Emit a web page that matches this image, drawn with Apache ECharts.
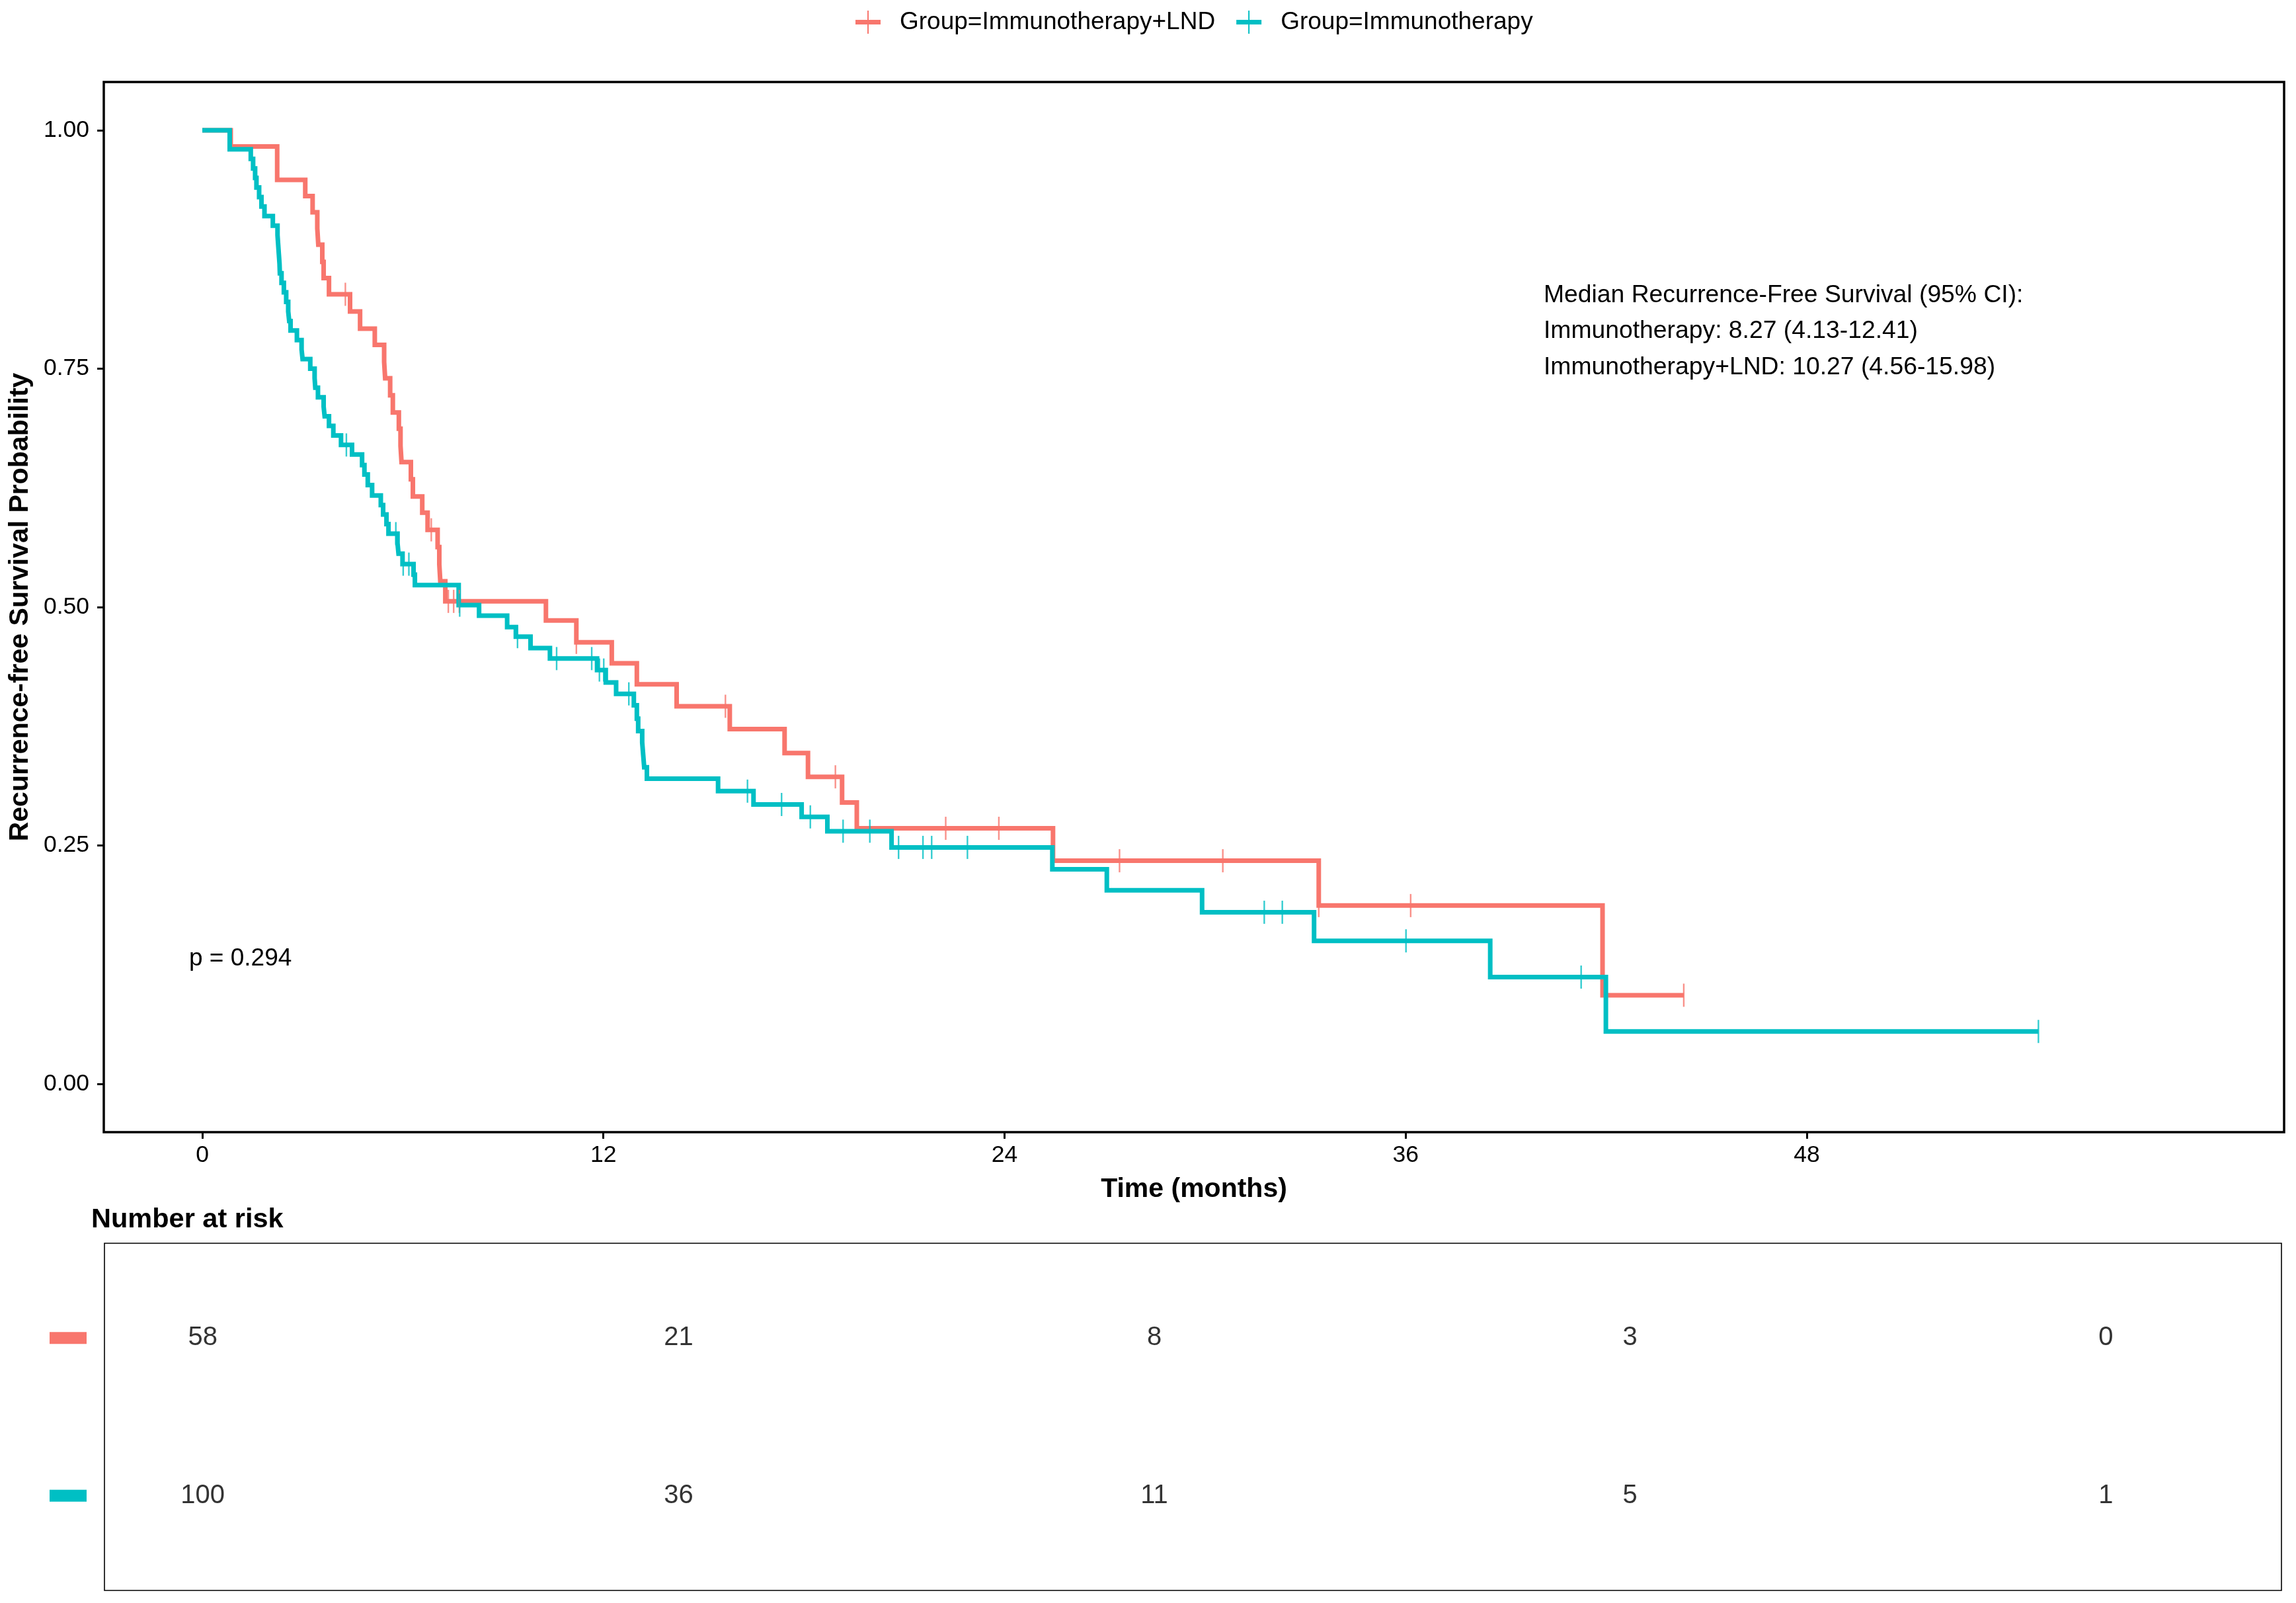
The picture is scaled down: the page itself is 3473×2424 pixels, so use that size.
<!DOCTYPE html>
<html><head><meta charset="utf-8">
<script src="https://cdn.jsdelivr.net/npm/echarts@6/dist/echarts.min.js"></script>
<style>html,body{margin:0;padding:0;background:#fff}#c{width:3473px;height:2424px}</style>
</head><body><div id="c"></div>
<script>
// ---------- data ----------
const lndTimes = [0, 0.85, 2.24, 3.08, 3.30, 3.44, 3.47, 3.59, 3.63, 3.79, 4.42, 4.72, 5.16, 5.44, 5.47, 5.62, 5.70, 5.88, 5.93, 5.96, 6.24, 6.30, 6.58, 6.74, 7.04, 7.09, 7.12, 7.27, 10.28, 11.19, 12.25, 13.00, 14.19, 15.78, 17.42, 18.12, 19.14, 19.58, 25.45, 33.40, 41.89];
const lndSurv  = [1, 0.983, 0.948, 0.931, 0.914, 0.897, 0.880, 0.862, 0.845, 0.828, 0.810, 0.792, 0.775, 0.757, 0.740, 0.722, 0.704, 0.687, 0.669, 0.652, 0.634, 0.616, 0.599, 0.581, 0.563, 0.545, 0.527, 0.506, 0.486, 0.463, 0.441, 0.419, 0.396, 0.372, 0.347, 0.322, 0.295, 0.268, 0.234, 0.187, 0.093];
const lndCensorTimes = [4.28, 6.85, 7.36, 7.52, 7.69, 11.19, 15.65, 18.94, 22.24, 23.83, 27.44, 30.53, 33.40, 36.15, 44.32];

const imTimes = [0, 0.82, 1.45, 1.52, 1.58, 1.62, 1.70, 1.77, 1.86, 2.11, 2.25, 2.27, 2.29, 2.31, 2.32, 2.37, 2.44, 2.51, 2.57, 2.60, 2.64, 2.83, 2.97, 3.00, 3.23, 3.36, 3.38, 3.46, 3.63, 3.66, 3.79, 3.92, 4.15, 4.48, 4.78, 4.85, 4.95, 5.08, 5.34, 5.41, 5.51, 5.57, 5.84, 5.87, 5.99, 6.32, 6.36, 7.67, 8.28, 9.12, 9.38, 9.82, 10.40, 11.81, 12.07, 12.38, 12.91, 13.00, 13.04, 13.16, 13.19, 13.22, 13.30, 15.43, 16.49, 17.93, 18.70, 20.62, 25.43, 27.06, 29.91, 33.26, 38.53, 41.99];
const imSurv  = [1, 0.98, 0.97, 0.96, 0.95, 0.94, 0.93, 0.92, 0.91, 0.90, 0.89, 0.88, 0.87, 0.86, 0.85, 0.84, 0.83, 0.82, 0.81, 0.80, 0.79, 0.78, 0.77, 0.76, 0.75, 0.74, 0.73, 0.72, 0.71, 0.70, 0.69, 0.68, 0.67, 0.660, 0.649, 0.639, 0.628, 0.617, 0.607, 0.597, 0.587, 0.577, 0.567, 0.556, 0.545, 0.534, 0.523, 0.502, 0.491, 0.479, 0.469, 0.457, 0.446, 0.434, 0.421, 0.409, 0.397, 0.383, 0.370, 0.358, 0.345, 0.332, 0.320, 0.307, 0.293, 0.280, 0.265, 0.248, 0.225, 0.203, 0.180, 0.150, 0.112, 0.055];
const imCensorTimes = [4.31, 5.79, 6.01, 6.18, 7.70, 9.43, 10.60, 11.65, 11.88, 12.01, 12.76, 16.31, 17.33, 18.19, 19.17, 19.97, 20.83, 21.56, 21.82, 22.89, 31.77, 32.31, 36.01, 41.25, 54.93];

const riskTimes = [0, 12, 24, 36, 48];
const riskLND = [58, 21, 8, 3, 0];
const riskIM = [100, 36, 11, 5, 1];

const xTicks = [0, 12, 24, 36, 48];
const yTicks = [0, 0.25, 0.5, 0.75, 1];

const nameLND = 'Group=Immunotherapy+LND';
const nameIM = 'Group=Immunotherapy';
const medianLines = ['Median Recurrence-Free Survival (95% CI):', 'Immunotherapy: 8.27 (4.13-12.41)', 'Immunotherapy+LND: 10.27 (4.56-15.98)'];
const pText = 'p = 0.294';

// ---------- helpers ----------
const RED = '#F8766D', TEAL = '#00BFC4';
const FONT = '"Liberation Sans", Arial, Helvetica, sans-serif';
function kmPath(times, surv, end) {
  const d = [[times[0], surv[0]]];
  for (let i = 1; i < times.length; i++) { d.push([times[i], surv[i - 1]]); d.push([times[i], surv[i]]); }
  d.push([end, surv[surv.length - 1]]);
  return d;
}
function survAt(times, surv, t) { let s = 1; for (let i = 0; i < times.length; i++) if (times[i] <= t) s = surv[i]; return s; }
const legendIcon = 'path://M0,14H38V21H0Z M18,0H20V35H18Z';

const chart = echarts.init(document.getElementById('c'), null, { renderer: 'canvas' });
const option = {
  backgroundColor: '#fff',
  animation: false,
  textStyle: { fontFamily: FONT },
  legend: {
    left: 1294, top: 15, padding: 0, itemGap: 32, itemWidth: 38, itemHeight: 35,
    data: [{ name: nameLND, icon: legendIcon }, { name: nameIM, icon: legendIcon }],
    textStyle: { fontSize: 37, color: '#000', fontFamily: FONT, padding: [0, 0, 0, 24] }
  },
  grid: [
    { left: 157, top: 124, right: 18, bottom: 712, show: true, borderColor: '#000', borderWidth: 3.5, backgroundColor: 'transparent', containLabel: false },
    { left: 158, top: 1880, right: 22, bottom: 19, show: true, borderColor: '#000', borderWidth: 1.6, backgroundColor: 'transparent', containLabel: false }
  ],
  xAxis: [
    {
      type: 'value', gridIndex: 0, min: -2.947, max: 62.28,
      splitLine: { show: false }, axisLine: { show: false, onZero: false },
      axisTick: { show: true, customValues: xTicks, length: 10, lineStyle: { color: '#000', width: 3 } },
      axisLabel: { customValues: xTicks, margin: 17, fontSize: 35.5, color: '#000', fontFamily: FONT },
      name: 'Time (months)', nameLocation: 'middle', nameGap: 66,
      nameTextStyle: { fontSize: 41, fontWeight: 'bold', color: '#000', fontFamily: FONT }
    },
    {
      type: 'value', gridIndex: 1, min: -2.48, max: 52.43, show: false,
      splitLine: { show: false }, axisLine: { show: false, onZero: false }, axisTick: { show: false }, axisLabel: { show: false }
    }
  ],
  yAxis: [
    {
      type: 'value', gridIndex: 0, min: -0.0506, max: 1.0506,
      splitLine: { show: false }, axisLine: { show: false, onZero: false },
      axisTick: { show: true, customValues: yTicks, length: 10, lineStyle: { color: '#000', width: 3 } },
      axisLabel: { customValues: yTicks, margin: 22, fontSize: 35.5, color: '#000', fontFamily: FONT, formatter: v => v.toFixed(2) },
      name: 'Recurrence-free Survival Probability', nameLocation: 'middle', nameGap: 106,
      nameTextStyle: { fontSize: 41, fontWeight: 'bold', color: '#000', fontFamily: FONT }
    },
    {
      type: 'value', gridIndex: 1, min: 0.4, max: 2.6,
      splitLine: { show: false }, axisLine: { show: false, onZero: false }, axisTick: { show: false },
      axisLabel: {
        customValues: [1, 2], margin: 27,
        formatter: v => (v === 2 ? '{r| }' : '{t| }'),
        rich: {
          r: { backgroundColor: RED, width: 56, height: 18, lineHeight: 18, fontSize: 10 },
          t: { backgroundColor: TEAL, width: 56, height: 18, lineHeight: 18, fontSize: 10 }
        }
      }
    }
  ],
  series: [
    {
      name: nameLND, type: 'line', xAxisIndex: 0, yAxisIndex: 0, z: 2,
      data: kmPath(lndTimes, lndSurv, Math.max(...lndCensorTimes)),
      showSymbol: false, symbol: 'none', color: RED, itemStyle: { color: RED },
      lineStyle: { color: RED, width: 7, join: 'miter', cap: 'butt' }, silent: true
    },
    {
      name: nameIM, type: 'line', xAxisIndex: 0, yAxisIndex: 0, z: 3,
      data: kmPath(imTimes, imSurv, Math.max(...imCensorTimes)),
      showSymbol: false, symbol: 'none', color: TEAL, itemStyle: { color: TEAL },
      lineStyle: { color: TEAL, width: 7, join: 'miter', cap: 'butt' }, silent: true
    },
    {
      name: 'censorLND', type: 'scatter', xAxisIndex: 0, yAxisIndex: 0, z: 4, silent: true,
      symbol: 'rect', symbolSize: [2.4, 35], itemStyle: { color: RED },
      data: lndCensorTimes.map(t => [t, survAt(lndTimes, lndSurv, t)])
    },
    {
      name: 'censorIM', type: 'scatter', xAxisIndex: 0, yAxisIndex: 0, z: 5, silent: true,
      symbol: 'rect', symbolSize: [2.4, 35], itemStyle: { color: TEAL },
      data: imCensorTimes.map(t => [t, survAt(imTimes, imSurv, t)])
    },
    {
      name: 'riskLND', type: 'scatter', xAxisIndex: 1, yAxisIndex: 1, silent: true,
      symbolSize: 1, itemStyle: { color: 'rgba(0,0,0,0)' },
      label: { show: true, position: 'inside', formatter: p => String(p.data[2]), fontSize: 40, color: '#000', fontFamily: FONT },
      data: riskTimes.map((t, i) => [t, 2, riskLND[i]])
    },
    {
      name: 'riskIM', type: 'scatter', xAxisIndex: 1, yAxisIndex: 1, silent: true,
      symbolSize: 1, itemStyle: { color: 'rgba(0,0,0,0)' },
      label: { show: true, position: 'inside', formatter: p => String(p.data[2]), fontSize: 40, color: '#000', fontFamily: FONT },
      data: riskTimes.map((t, i) => [t, 1, riskIM[i]])
    }
  ],
  graphic: [
    { type: 'text', style: { x: 2335, y: 447, text: medianLines[0], fill: '#000', font: '37.3px ' + FONT, align: 'left', verticalAlign: 'middle' } },
    { type: 'text', style: { x: 2335, y: 501, text: medianLines[1], fill: '#000', font: '37.3px ' + FONT, align: 'left', verticalAlign: 'middle' } },
    { type: 'text', style: { x: 2335, y: 556, text: medianLines[2], fill: '#000', font: '37.3px ' + FONT, align: 'left', verticalAlign: 'middle' } },
    { type: 'text', style: { x: 286, y: 1450, text: pText, fill: '#000', font: '37px ' + FONT, align: 'left', verticalAlign: 'middle' } },
    { type: 'text', style: { x: 138, y: 1845, text: 'Number at risk', fill: '#000', font: 'bold 41.5px ' + FONT, align: 'left', verticalAlign: 'middle' } }
  ]
};
chart.setOption(option);
</script></body></html>
